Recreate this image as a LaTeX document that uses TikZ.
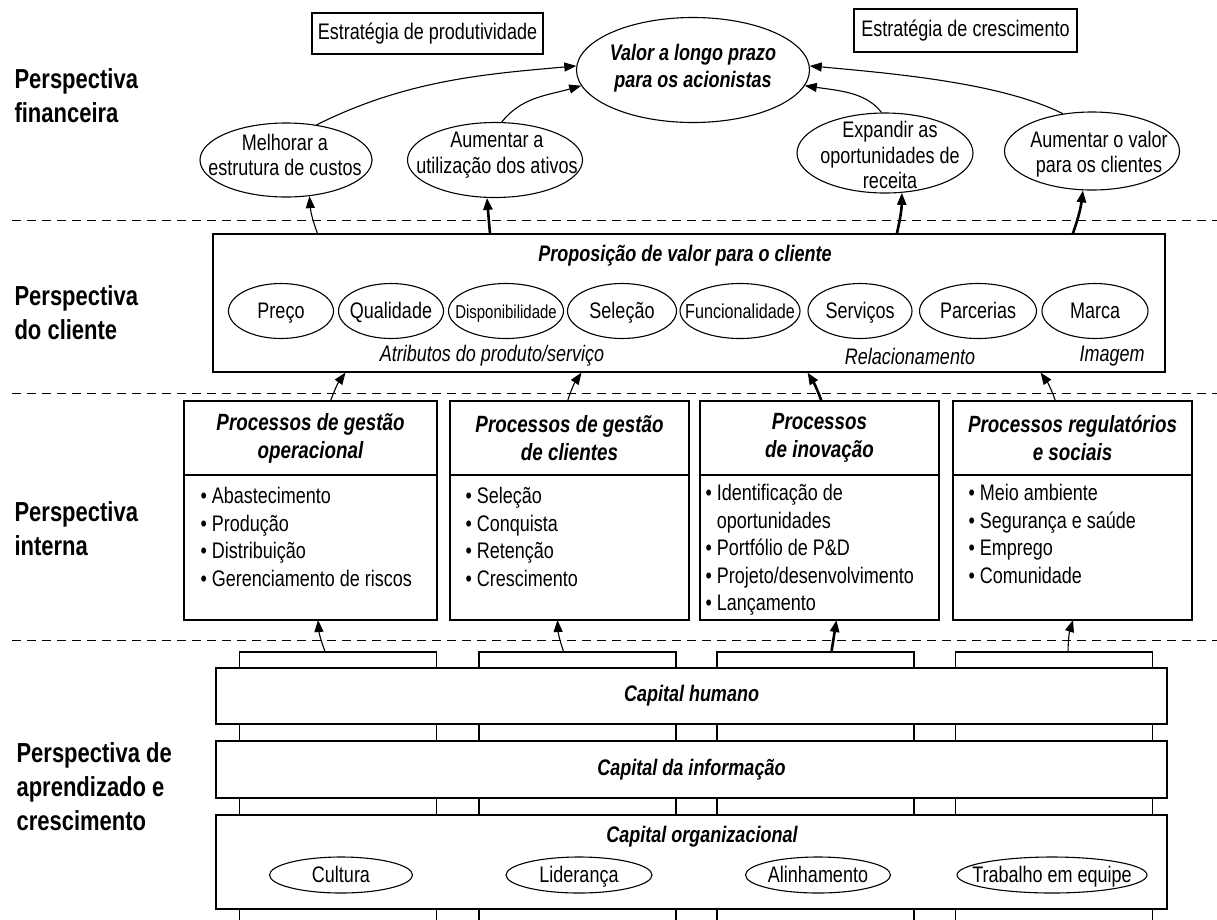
\documentclass[tikz,border=0pt]{standalone}
\usepackage{fontspec}
\setmainfont{Liberation Sans}[FakeStretch=0.8]
\usetikzlibrary{shapes,arrows.meta,positioning,calc}
\tikzstyle{Persp} = [font=\bfseries\fontsize{27.5}{34}\selectfont, align=left, anchor=west, inner sep=0pt]
\tikzstyle{Divider} = [dash pattern=on 9pt off 6pt, line width=1pt]
\tikzstyle{Strategy} = [draw, rectangle, inner sep=0pt, font=\fontsize{22.5}{26}\selectfont]
\tikzstyle{Oval} = [draw, ellipse, inner sep=0pt]
\tikzstyle{OvalText} = [inner sep=0pt, align=center, font=\fontsize{22.5}{25.5}\selectfont]
\tikzstyle{Word} = [inner sep=0pt, text height=17pt, text depth=2pt, font=\fontsize{22.5}{26}\selectfont]
\tikzstyle{OvalBold} = [inner sep=0pt, align=center, font=\bfseries\itshape\fontsize{22.5}{27}\selectfont]
\tikzstyle{Panel} = [draw, rectangle, inner sep=0pt]
\tikzstyle{Title} = [inner sep=0pt, font=\bfseries\itshape\fontsize{22.5}{26}\selectfont]
\tikzstyle{Note} = [inner sep=0pt, font=\itshape\fontsize{22.5}{26}\selectfont]
\tikzstyle{Head} = [draw, rectangle, inner sep=0pt, outer sep=0pt, minimum height=74pt, align=center, font=\bfseries\itshape\fontsize{23.5}{28}\selectfont]
\tikzstyle{Body} = [draw, rectangle, inner sep=0pt, outer sep=0pt, minimum height=145pt]
\tikzstyle{List} = [anchor=north west, inner sep=0pt, align=left, font=\fontsize{22.5}{27.5}\selectfont]
\tikzstyle{Pillar} = [draw, rectangle, inner sep=0pt, minimum width=197pt, minimum height=283pt]
\tikzstyle{Bar} = [draw, rectangle, fill=white, inner sep=0pt, minimum width=951pt, font=\bfseries\itshape\fontsize{22.5}{26}\selectfont]
\tikzstyle{Flow} = [->, line width=1.1pt]
\tikzstyle{FlowThick} = [->, line width=2.6pt]

\begin{document}
\begin{tikzpicture}[x=1pt, y=-1pt, line width=1.1pt, >={Triangle[length=12pt,width=9pt]}]
    \useasboundingbox[fill=white] (0,0) rectangle (1217,919);

    % perspectivas
    \node[Persp] (pfin) at (14,96)  {Perspectiva\\financeira};
    \node[Persp] (pcli) at (14,313) {Perspectiva\\do cliente};
    \node[Persp] (pint) at (14,529) {Perspectiva\\interna};
    \node[Persp] (papr) at (16,787) {Perspectiva de\\aprendizado e\\crescimento};

    \draw[Divider] (12,220) -- (1217,220);
    \draw[Divider] (12,393) -- (1217,393);
    \draw[Divider] (12,640) -- (1217,640);

    % financeira
    \node[Strategy, minimum width=231pt, minimum height=41pt] (prod)  at (427.5,33.5) {Estratégia de produtividade};
    \node[Strategy, minimum width=223pt, minimum height=43pt] (cresc) at (965.5,30.5) {Estratégia de crescimento};
    \node[Oval, minimum width=233pt, minimum height=105pt] (valor)    at (693,70)   {};
    \node[OvalBold] (valort) at (693,68) {Valor a longo prazo\\para os acionistas};
    \node[Oval, minimum width=172pt, minimum height=74pt]  (custos)   at (286,160)  {};
    \node[OvalText] (custost) at (285,155) {Melhorar a\\estrutura de custos};
    \node[Oval, minimum width=175pt, minimum height=75pt]  (ativos)   at (495,160)  {};
    \node[OvalText] (ativost) at (497,155) {Aumentar a\\utilização dos ativos};
    \node[Oval, minimum width=176pt, minimum height=80pt]  (receita)  at (885,153)  {};
    \node[OvalText] (receitat) at (890,155) {Expandir as\\oportunidades de\\receita};
    \node[Oval, minimum width=175pt, minimum height=78pt]  (clientes) at (1092,151) {};
    \node[OvalText] (clientest) at (1099,154) {Aumentar o valor\\para os clientes};

    \draw[Flow] (custos.49)   .. controls +(90,-45) and +(-90,8) .. (valor.178);
    \draw[Flow] (ativos.80)   .. controls +(20,-25) and +(-35,10) .. (valor.188);
    \draw[Flow] (receita.95)  .. controls +(-15,-20) and +(35,5) .. (valor.352);
    \draw[Flow] (clientes.128) .. controls +(-60,-30) and +(90,8) .. (valor.2);

    % cliente
    \node[Panel, minimum width=952pt, minimum height=138pt] (cust) at (689,303) {};
    \node[Title] (custt) at (685,256) {Proposição de valor para o cliente};
    \node[Oval, minimum width=105pt, minimum height=55pt] (preco) at (281,311)  {};
    \node[Word] (precot) at (preco) {Preço};
    \node[Oval, minimum width=105pt, minimum height=55pt] (qual)  at (391,311)  {};
    \node[Word] (qualt) at (qual) {Qualidade};
    \node[Oval, minimum width=115pt, minimum height=55pt] (disp)  at (506,311)  {};
    \node[Word, font=\fontsize{18.7}{22}\selectfont] (dispt) at (disp) {Disponibilidade};
    \node[Oval, minimum width=109pt, minimum height=55pt] (sel)   at (622,311)  {};
    \node[Word] (selt) at (sel) {Seleção};
    \node[Oval, minimum width=120pt, minimum height=55pt] (func)  at (740,311)  {};
    \node[Word, font=\fontsize{20.2}{24}\selectfont] (funct) at (func) {Funcionalidade};
    \node[Oval, minimum width=104pt, minimum height=55pt] (serv)  at (860,311)  {};
    \node[Word] (servt) at (serv) {Serviços};
    \node[Oval, minimum width=117pt, minimum height=55pt] (parc)  at (978,311)  {};
    \node[Word] (parct) at (parc) {Parcerias};
    \node[Oval, minimum width=106pt, minimum height=55pt] (marca) at (1095,311) {};
    \node[Word] (marcat) at (marca) {Marca};
    \node[Note] (attr) at (492,356)  {Atributos do produto/serviço};
    \node[Note] (rel)  at (910,356)  {Relacionamento};
    \node[Note] (img)  at (1112,356) {Imagem};

    \draw[Flow]      ($(cust.north -| custos.-57)+(8,0)$) to[bend left=8] (custos.-57);
    \draw[FlowThick] ($(cust.north -| ativos.-102)+(3,0)$) -- (ativos.-102);
    \draw[FlowThick] ($(cust.north -| receita.-67)+(-5,0)$) to[bend right=6] (receita.-67);
    \draw[FlowThick] ($(cust.north -| clientes.-103)+(-10,0)$) to[bend right=6] (clientes.-103);

    % interna
    \node[Head, minimum width=253pt] (h1) at (310.5,438)  {Processos de gestão\\operacional};
    \node[Body, minimum width=253pt, below=0pt of h1] (b1) {};
    \node[Head, minimum width=239pt] (h2) at (569.5,438)  {Processos de gestão\\de clientes};
    \node[Body, minimum width=239pt, below=0pt of h2] (b2) {};
    \node[Head, minimum width=239pt] (h3) at (819.5,438)  {Processos\\de inovação};
    \node[Body, minimum width=239pt, below=0pt of h3] (b3) {};
    \node[Head, minimum width=239pt] (h4) at (1072.5,438) {Processos regulatórios\\e sociais};
    \node[Body, minimum width=239pt, below=0pt of h4] (b4) {};

    \node[List] (l1) at ($(b1.north west)+(16,12)$) {\textbullet~Abastecimento\\\textbullet~Produção\\\textbullet~Distribuição\\\textbullet~Gerenciamento de riscos};
    \node[List] (l2) at ($(b2.north west)+(15,12)$) {\textbullet~Seleção\\\textbullet~Conquista\\\textbullet~Retenção\\\textbullet~Crescimento};
    \node[List] (l3) at ($(b3.north west)+(5,9)$) {\textbullet~Identificação de\\\phantom{\textbullet~}oportunidades\\\textbullet~Portfólio de P\&D\\\textbullet~Projeto/desenvolvimento\\\textbullet~Lançamento};
    \node[List] (l4) at ($(b4.north west)+(15,9)$) {\textbullet~Meio ambiente\\\textbullet~Segurança e saúde\\\textbullet~Emprego\\\textbullet~Comunidade};

    \draw[Flow]      ($(h1.north)+(20,0)$) to[bend left=8] ($(h1.north |- cust.south)+(35,0)$);
    \draw[Flow]      ($(h2.north)+(-2,0)$) to[bend left=8] ($(h2.north |- cust.south)+(12,0)$);
    \draw[FlowThick] ($(h3.north)+(2,0)$) to[bend right=6] ($(h3.north |- cust.south)+(-12,0)$);
    \draw[Flow]      ($(h4.north)+(-17,0)$) to[bend right=8] ($(h4.north |- cust.south)+(-32,0)$);

    % aprendizado e crescimento
    \node[Pillar] (pil1) at (338,793.5)   {};
    \node[Pillar] (pil2) at (577.5,793.5) {};
    \node[Pillar] (pil3) at (815.5,793.5) {};
    \node[Pillar] (pil4) at (1054,793.5)  {};
    \node[Bar, minimum height=56pt] (hum) at (691.5,696)   {Capital humano};
    \node[Bar, minimum height=57pt] (inf) at (691.5,769.5) {Capital da informação};
    \node[Bar, minimum height=94pt] (org) at (691.5,862)   {};
    \node[Title] (orgt) at (702,837) {Capital organizacional};
    \node[Oval, minimum width=143pt, minimum height=36pt] (cult) at (341,875)  {};
    \node[Word] (cultt) at (cult) {Cultura};
    \node[Oval, minimum width=146pt, minimum height=36pt] (lid)  at (579,875)  {};
    \node[Word] (lidt) at (lid) {Liderança};
    \node[Oval, minimum width=145pt, minimum height=36pt] (alin) at (818,875)  {};
    \node[Word] (alint) at (alin) {Alinhamento};
    \node[Oval, minimum width=190pt, minimum height=36pt] (trab) at (1052,875) {};
    \node[Word] (trabt) at (trab) {Trabalho em equipe};

    \draw[Flow]      ($(pil1.north)+(-13,0)$) to[bend left=8] ($(pil1.north |- b1.south)+(-20,0)$);
    \draw[Flow]      ($(pil2.north)+(-14,0)$) to[bend left=8] ($(pil2.north |- b2.south)+(-20,0)$);
    \draw[FlowThick] ($(pil3.north)+(16,0)$) -- ($(pil3.north |- b3.south)+(21,0)$);
    \draw[Flow]      ($(pil4.north)+(14,0)$) to[bend left=8] ($(pil4.north |- b4.south)+(19,0)$);
\end{tikzpicture}
\end{document}
